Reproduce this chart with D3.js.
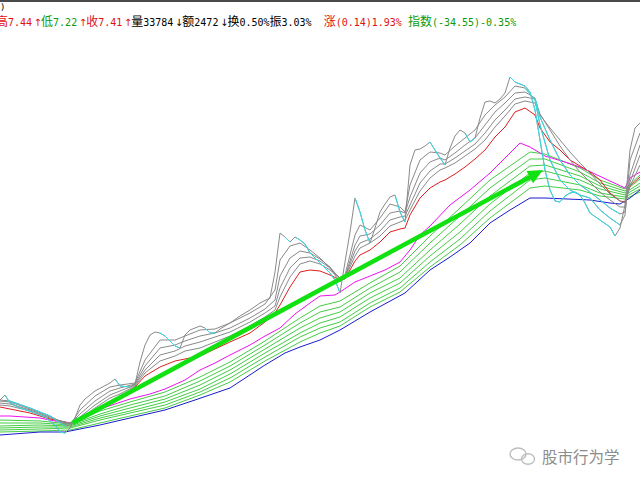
<!DOCTYPE html>
<html><head><meta charset="utf-8">
<script src="https://cdn.jsdelivr.net/npm/d3@7"></script>
<style>html,body{margin:0;padding:0;background:#fff;overflow:hidden}</style>
</head><body>
<svg id="chart" width="640" height="484"></svg>
<script>
// ---------- DATA (day index, price) ----------
const blueLine = [[0,4.35],[8,4.38],[13,4.38],[20,4.45],[26,4.52],[33,4.60],[39,4.70],[46,4.82],[53,5.05],[57,5.17],[60,5.23],[64,5.30],[68,5.40],[72,5.52],[74,5.58],[81,5.77],[86,6.00],[90,6.13],[94,6.27],[98,6.47],[102,6.60],[106,6.72],[109,6.72],[118,6.70],[122,6.67],[124,6.66],[126,6.72],[128,6.80]];

const magentaLine = [[0,4.54],[2,4.54],[5,4.53],[8,4.52],[11,4.49],[14,4.47],[17,4.53],[20,4.61],[23,4.66],[26,4.71],[30,4.76],[33,4.81],[37,4.90],[40,5.00],[43,5.07],[46,5.15],[50,5.25],[53,5.34],[56,5.42],[59,5.56],[62,5.67],[64,5.74],[67,5.75],[68,5.78],[71,5.88],[74,5.94],[77,6.00],[80,6.08],[82,6.20],[84,6.35],[86,6.44],[90,6.65],[94,6.80],[98,6.97],[101,7.12],[104,7.27],[106,7.23],[109,7.14],[113,7.08],[116,7.03],[119,6.96],[122,6.89],[125,6.82],[126,6.92],[128,6.98]];

const greenDays = [0,8,14,20,26,33,40,46,53,60,64,68,74,80,86,92,98,106,109,116,120,125,128];
const green1 = [4.50,4.49,4.46,4.59,4.68,4.78,4.93,5.08,5.29,5.52,5.64,5.69,5.87,6.04,6.34,6.62,6.90,7.18,7.16,7.02,6.90,6.81,6.95];
const green2 = [4.47,4.47,4.45,4.56,4.65,4.74,4.89,5.04,5.25,5.47,5.58,5.63,5.82,5.98,6.27,6.54,6.82,7.11,7.11,6.98,6.87,6.79,6.91];
const green3 = [4.44,4.45,4.44,4.54,4.62,4.71,4.85,5.00,5.21,5.42,5.52,5.58,5.77,5.92,6.20,6.46,6.74,7.04,7.05,6.94,6.84,6.77,6.87];
const green4 = [4.42,4.43,4.43,4.52,4.59,4.68,4.81,4.96,5.17,5.37,5.47,5.53,5.72,5.87,6.14,6.38,6.66,6.97,6.99,6.90,6.81,6.75,6.84];
const green5 = [4.40,4.41,4.42,4.50,4.57,4.65,4.78,4.92,5.13,5.33,5.42,5.48,5.67,5.82,6.08,6.31,6.59,6.90,6.92,6.85,6.77,6.73,6.81];
const green6 = [4.38,4.39,4.40,4.47,4.54,4.62,4.75,4.88,5.09,5.28,5.37,5.44,5.63,5.78,6.03,6.25,6.52,6.82,6.84,6.80,6.74,6.71,6.78];

const shortDays = [0,2,6,10,13,14,16,19,22,24,27,29,32,35,37,40,43,46,50,53,55,56,58,60,62,64,66,68,69,71,72,74,76,78,80,81,82,84,86,88,89,91,93,95,97,99,101,103,105,107,108,110,112,114,116,118,120,122,124,125,126,128];
const gray2 = [4.70,4.69,4.62,4.54,4.44,4.45,4.60,4.74,4.83,4.85,4.87,5.10,5.30,5.30,5.34,5.40,5.41,5.47,5.57,5.66,5.80,6.10,6.24,6.27,6.20,6.12,6.02,5.88,5.95,6.35,6.45,6.40,6.52,6.66,6.63,6.58,6.85,7.10,7.18,7.17,7.15,7.24,7.32,7.40,7.55,7.65,7.73,7.84,7.82,7.70,7.45,7.10,6.90,6.80,6.75,6.72,6.60,6.52,6.45,6.55,7.10,7.37];
const gray3 = [4.69,4.68,4.61,4.54,4.46,4.46,4.56,4.69,4.79,4.82,4.86,5.04,5.22,5.25,5.29,5.34,5.37,5.42,5.52,5.61,5.70,5.94,6.12,6.19,6.17,6.11,6.03,5.91,5.93,6.25,6.34,6.36,6.45,6.57,6.59,6.57,6.73,6.97,7.08,7.12,7.10,7.17,7.25,7.32,7.45,7.58,7.67,7.77,7.78,7.72,7.53,7.30,7.10,6.95,6.85,6.78,6.70,6.62,6.56,6.58,6.95,7.25];
const gray4 = [4.67,4.66,4.60,4.53,4.47,4.47,4.53,4.65,4.75,4.79,4.85,5.00,5.15,5.19,5.24,5.28,5.33,5.38,5.48,5.57,5.64,5.82,6.02,6.12,6.13,6.09,6.02,5.92,5.93,6.19,6.27,6.31,6.39,6.50,6.53,6.54,6.65,6.87,6.99,7.06,7.06,7.12,7.19,7.26,7.37,7.50,7.60,7.71,7.73,7.71,7.56,7.40,7.24,7.10,6.98,6.88,6.78,6.70,6.63,6.63,6.88,7.15];
const gray5 = [4.65,4.64,4.59,4.52,4.48,4.47,4.51,4.62,4.72,4.76,4.84,4.97,5.09,5.14,5.19,5.22,5.28,5.34,5.44,5.53,5.60,5.73,5.93,6.06,6.09,6.06,6.00,5.92,5.92,6.14,6.22,6.27,6.34,6.44,6.48,6.50,6.60,6.79,6.92,7.00,7.02,7.07,7.14,7.21,7.30,7.43,7.54,7.66,7.69,7.67,7.55,7.42,7.30,7.18,7.07,6.97,6.86,6.76,6.69,6.67,6.84,7.05];
const redValues = [4.63,4.61,4.57,4.51,4.48,4.47,4.50,4.59,4.68,4.73,4.83,4.94,5.03,5.09,5.11,5.14,5.21,5.28,5.37,5.48,5.57,5.65,5.83,5.98,6.00,5.99,5.95,5.90,5.91,6.09,6.15,6.20,6.28,6.38,6.41,6.42,6.55,6.72,6.82,6.88,6.90,6.96,7.03,7.11,7.20,7.33,7.43,7.58,7.62,7.55,7.42,7.28,7.20,7.10,7.04,6.98,6.90,6.77,6.69,6.68,6.84,6.93];

const gray1 = [[0,4.70],[1,4.75],[2,4.67],[4,4.62],[7,4.57],[9,4.53],[11,4.45],[12,4.38],[13,4.37],[14,4.42],[15,4.52],[16,4.65],[17,4.71],[19,4.79],[22,4.87],[23,4.91],[24,4.84],[26,4.83],[27,4.86],[28,5.08],[29,5.25],[30,5.35],[31,5.38],[32,5.37],[33,5.34],[34,5.29],[35,5.24],[36,5.22],[37,5.35],[38,5.40],[40,5.44],[41,5.42],[42,5.37],[43,5.37],[44,5.41],[46,5.47],[48,5.54],[50,5.60],[52,5.67],[54,5.72],[55,5.98],[56,6.37],[57,6.33],[58,6.28],[59,6.33],[60,6.30],[61,6.26],[62,6.17],[64,6.07],[66,5.97],[67,5.90],[68,5.77],[69,6.08],[70,6.38],[71,6.72],[72,6.58],[73,6.40],[74,6.27],[75,6.42],[76,6.58],[77,6.66],[78,6.73],[79,6.75],[80,6.58],[81,6.48],[82,7.05],[83,7.20],[84,7.21],[85,7.24],[86,7.28],[87,7.20],[88,7.12],[89,7.05],[90,7.22],[91,7.34],[92,7.40],[93,7.37],[94,7.28],[95,7.32],[96,7.52],[97,7.68],[98,7.69],[99,7.67],[100,7.71],[101,7.77],[102,7.93],[103,7.88],[104,7.86],[105,7.84],[106,7.78],[107,7.60],[108,7.30],[109,7.00],[110,6.80],[111,6.69],[112,6.68],[113,6.74],[114,6.77],[115,6.78],[116,6.75],[117,6.67],[118,6.57],[120,6.50],[122,6.43],[123,6.34],[124,6.42],[125,6.65],[126,7.20],[127,7.42],[128,7.47]];

// falling spells (day ranges) drawn in cyan
const gray1Falling = [[1,13],[23,26],[32,36],[41,43],[57,58],[59,68],[71,74],[79,81],[86,89],[93,95],[102,123]];
const gray2Falling = [[2,13],[105,124]];
const gray3Falling = [[107,124]];

const trendArrow = [[14.5,4.47],[108.6,7.00]];

const headerTexts = ["高","7.44","↑","低","7.22","↑","收","7.41","↑","量","33784","↓","额","2472","↓","换","0.50%","振","3.03%","  ","涨","(0.14)1.93%"," ","指数","(-34.55)-0.35%"];
const headerTones = ["up","up","up","down","down","up","up","up","up","plain","plain","plain","plain","plain","plain","plain","plain","plain","plain","plain","up","up","plain","down","down"];
const watermark = "股市行为学";

// ---------- DRAW ----------
const W = 640, H = 484;
const svg = d3.select("#chart");
const x = d3.scaleLinear().domain([0,128]).range([0,W]);
const y = d3.scaleLinear().domain([3.86,8.70]).range([H,0]);
const line = d3.line().x(d => x(d[0])).y(d => y(d[1]));
const zip = (days, vals) => days.map((d,i) => [d, vals[i]]);

const C = {gray:"#8a8a8a", cyan:"#33dde8", red:"#dd2020", magenta:"#f010f0", green:"#44cc44", blue:"#1a1ad0", arrow:"#11e011"};

const g = svg.append("g");
function draw(data, color, w) {
  g.append("path").attr("d", line(data)).attr("fill","none")
   .attr("stroke", color).attr("stroke-width", w || 1).attr("stroke-linejoin","round");
}
[green6,green5,green4,green3,green2,green1].forEach(v => draw(zip(greenDays, v), C.green));
draw(blueLine, C.blue);
draw(magentaLine, C.magenta);
draw(zip(shortDays, redValues), C.red);
const g2d = zip(shortDays, gray2), g3d = zip(shortDays, gray3);
[gray5, gray4].forEach(v => draw(zip(shortDays, v), C.gray));
draw(g3d, C.gray); draw(g2d, C.gray); draw(gray1, C.gray);
function overlay(data, ranges) {
  ranges.forEach(([a,b]) => draw(data.filter(d => d[0] >= a && d[0] <= b), C.cyan));
}
overlay(g3d, gray3Falling);
overlay(g2d, gray2Falling);
overlay(gray1, gray1Falling);

// trend arrow
const p0 = [x(trendArrow[0][0]), y(trendArrow[0][1])];
const p1 = [x(trendArrow[1][0]), y(trendArrow[1][1])];
const ang = Math.atan2(p1[1]-p0[1], p1[0]-p0[0]);
const hl = 15, hw = 7;
const base = [p1[0]-hl*Math.cos(ang), p1[1]-hl*Math.sin(ang)];
svg.append("line").attr("x1",p0[0]).attr("y1",p0[1]).attr("x2",base[0]+2*Math.cos(ang)).attr("y2",base[1]+2*Math.sin(ang))
  .attr("stroke",C.arrow).attr("stroke-width",4.5);
svg.append("polygon").attr("fill",C.arrow).attr("points",[
  p1, [base[0]-hw*Math.sin(ang), base[1]+hw*Math.cos(ang)], [base[0]+hw*Math.sin(ang), base[1]-hw*Math.cos(ang)]
].map(p=>p.join(",")).join(" "));

// header
svg.append("rect").attr("x",0).attr("y",0).attr("width",W).attr("height",2).attr("fill","#4a4a4a");
svg.append("text").attr("x",0).attr("y",10).attr("font-family","DejaVu Sans Mono").attr("font-size",9).attr("fill","#000").text(")");
const toneColor = {up:"#e01010", down:"#0a9a0a", plain:"#000"};
let cx = -4;
headerTexts.forEach((t,i) => {
  const cjk = /[\u4e00-\u9fff]/.test(t);
  const arrow = /[↑↓]/.test(t);
  const node = svg.append("text").attr("x", cx + (arrow ? 1.5 : 0)).attr("y", 26)
    .attr("font-family", cjk ? "Noto Sans CJK SC" : (arrow ? "DejaVu Sans" : "DejaVu Sans Mono"))
    .attr("font-size", cjk ? 12 : 10)
    .attr("xml:space","preserve")
    .attr("fill", toneColor[headerTones[i]]).text(t);
  cx += arrow ? 9 : (cjk ? 12 * t.length : 6.02 * t.length);
});

// watermark
const wm = svg.append("g").attr("fill","none").attr("stroke","#bdbdbd").attr("stroke-width",1.4);
wm.append("ellipse").attr("cx",518).attr("cy",454).attr("rx",8).attr("ry",6);
wm.append("ellipse").attr("cx",528).attr("cy",459).attr("rx",6.5).attr("ry",5.2);
svg.append("text").attr("x",542).attr("y",463).attr("font-family","Noto Sans CJK SC")
  .attr("font-size",15.5).attr("fill","#8c8c8c").text(watermark);
</script>
</body></html>
